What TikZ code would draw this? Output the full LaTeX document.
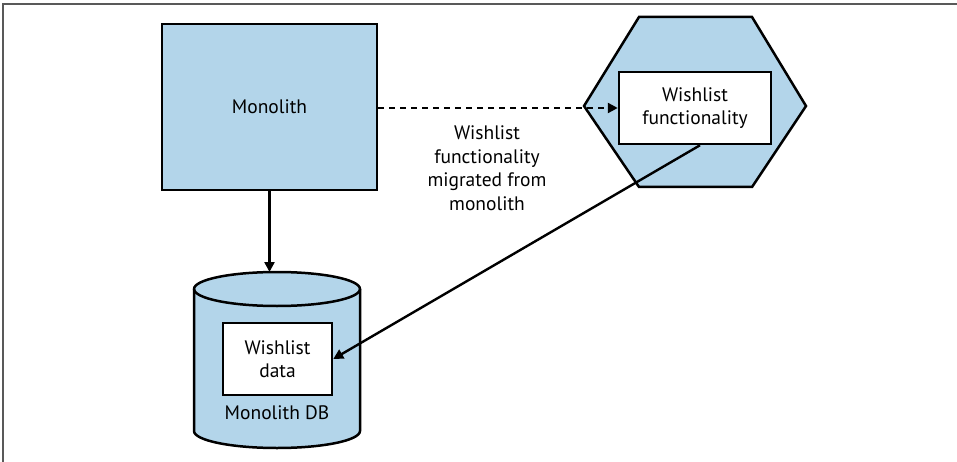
\documentclass[tikz,border=0pt]{standalone}
\usepackage{fontspec}
\setmainfont{PT Sans}
\usetikzlibrary{arrows.meta}

\definecolor{paleblue}{HTML}{B3D5EA}

\begin{document}
\begin{tikzpicture}[
  x=1pt,
  y=-1pt,
  shell/.style={fill=paleblue,draw=black,line width=2.5pt},
  inbox/.style={fill=white,draw=black,line width=2.5pt,inner sep=0pt},
  link/.style={-{Triangle[length=10pt,width=10pt]},line width=2.4pt},
  lab/.style={font=\fontsize{19.5}{23.5}\selectfont,align=center}
]
\useasboundingbox (0,0) rectangle (957,462);
\draw[black!65,line width=1.5pt] (957,4) -- (3,4) -- (3,462);
% monolith
\node[shell,lab,minimum width=215pt,minimum height=166pt] (mono) at (269.5,107) {Monolith};
% service hexagon
\path[shell,line join=miter] (584,106) -- (639,17) -- (752,17) -- (806,106) -- (752,187) -- (639,187) -- cycle;
\node[inbox,lab,minimum width=152pt,minimum height=72pt] (func) at (695,108) {Wishlist\\functionality};
% database
\path[shell] (194,289) -- (194,431) arc[start angle=180,end angle=0,x radius=83,y radius=17] -- (360,289) arc[start angle=0,end angle=-180,x radius=83,y radius=17] -- cycle;
\draw[line width=2.5pt] (194,289) arc[start angle=180,end angle=0,x radius=83,y radius=17];
\coordinate (dbtop) at (269.5,272);
\node[inbox,lab,minimum width=109pt,minimum height=72pt] (data) at (277.5,359) {Wishlist\\data};
\node[lab] (dbname) at (277,413) {Monolith DB};
% connectors
\draw[link,dashed,dash pattern=on 6pt off 5pt] (mono.east |- func.west) -- (func.west);
\node[lab] (mig) at (487,168) {Wishlist\\functionality\\migrated from\\monolith};
\draw[link] (mono.south) -- (dbtop);
\draw[link] (func.south) ++(5,0) coordinate (fstart) -- (data.east);
\end{tikzpicture}
\end{document}
